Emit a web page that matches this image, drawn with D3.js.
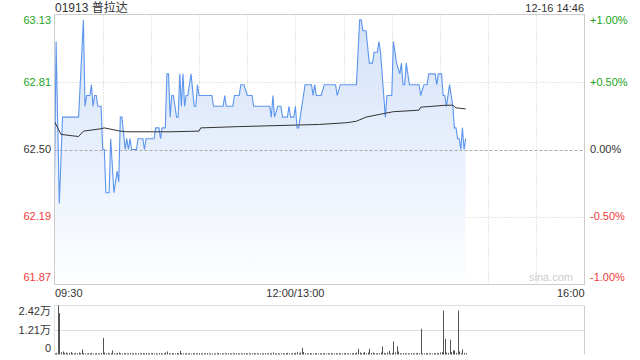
<!DOCTYPE html>
<html>
<head>
<meta charset="utf-8">
<script src="https://cdn.jsdelivr.net/npm/d3@7"></script>
<style>
  body { margin: 0; background: #fff; }
  svg { display: block; font-family: "Liberation Sans", Arial, sans-serif; }
</style>
</head>
<body>
<svg id="chart" width="640" height="360"></svg>
<script>
// minute index (0 = 09:30, 150 = 12:00/13:00, 330 = 16:00) and price
const pricePoints = [
  [0, 62.35], [1, 63.00], [3, 62.25], [5, 62.65], [15, 62.65], [18, 63.10], [19, 62.70],
  [20, 62.75], [22, 62.75], [23, 62.80], [24, 62.70], [25, 62.75], [26, 62.75], [27, 62.70],
  [29, 62.70], [30, 62.50], [31, 62.50], [32, 62.30], [34, 62.30], [35, 62.55], [37, 62.30],
  [39, 62.40], [40, 62.35], [41, 62.65], [42, 62.65], [44, 62.50], [45, 62.55], [46, 62.50],
  [47, 62.55], [48, 62.50], [51, 62.50], [52, 62.55], [55, 62.55], [56, 62.50], [57, 62.55],
  [62, 62.55], [63, 62.60], [65, 62.60], [66, 62.55], [67, 62.60], [69, 62.60], [70, 62.85],
  [71, 62.85], [72, 62.65], [73, 62.75], [74, 62.75], [76, 62.65], [77, 62.65], [78, 62.85],
  [79, 62.70], [80, 62.85], [81, 62.70], [82, 62.75], [83, 62.75], [85, 62.85], [87, 62.70],
  [88, 62.70], [89, 62.80], [90, 62.75], [98, 62.75], [99, 62.70], [105, 62.70], [106, 62.75],
  [107, 62.70], [111, 62.70], [112, 62.75], [115, 62.75], [116, 62.80], [118, 62.80],
  [120, 62.75], [123, 62.75], [124, 62.70], [134, 62.70], [135, 62.65], [136, 62.75],
  [137, 62.65], [139, 62.70], [141, 62.70], [142, 62.65], [145, 62.65], [146, 62.70],
  [147, 62.65], [149, 62.65], [150, 62.70], [151, 62.60], [152, 62.60], [154, 62.70],
  [156, 62.80], [160, 62.80], [161, 62.75], [162, 62.80], [163, 62.75], [166, 62.75],
  [168, 62.80], [175, 62.80], [176, 62.75], [178, 62.80], [188, 62.80], [190, 63.10],
  [191, 63.10], [192, 63.05], [194, 63.05], [196, 62.90], [198, 62.90], [199, 62.95],
  [201, 62.95], [202, 63.00], [203, 62.95], [206, 62.65], [207, 62.75], [210, 62.75],
  [211, 63.00], [213, 62.90], [215, 62.85], [216, 62.90], [217, 62.80], [218, 62.80],
  [219, 62.90], [221, 62.80], [227, 62.80], [228, 62.75], [230, 62.80], [232, 62.80],
  [233, 62.85], [237, 62.85], [238, 62.80], [239, 62.85], [241, 62.85], [242, 62.75],
  [243, 62.75], [244, 62.70], [246, 62.80], [248, 62.70], [249, 62.60], [250, 62.60],
  [251, 62.55], [252, 62.55], [253, 62.50], [254, 62.60], [255, 62.50], [256, 62.55]
];

// average price line
const avgPoints = [
  [0, 62.63], [4, 62.57], [15, 62.56], [18, 62.585], [29, 62.596], [31, 62.60], [41, 62.585],
  [45, 62.582], [72, 62.582], [90, 62.585], [91, 62.60], [115, 62.606], [165, 62.616],
  [182, 62.624], [188, 62.631], [194, 62.65], [204, 62.665], [211, 62.675], [227, 62.682],
  [228, 62.696], [244, 62.705], [248, 62.705], [250, 62.693], [256, 62.688]
];

// volume per minute, in 万
const volumes = [
  0.05, 0.08, 2.42, 2.04, 0.12, 0.15, 0.08, 0.10, 0.06, 0.08,
  0.12, 0.06, 0.05, 0.08, 0.06, 0.10, 0.07, 0.25, 0.08, 0.06,
  0.05, 0.07, 0.06, 0.08, 0.05, 0.06, 0.07, 0.05, 0.06, 0.08,
  0.82, 0.10, 0.06, 0.08, 0.05, 0.07, 0.20, 0.06, 0.05, 0.08,
  0.10, 0.06, 0.05, 0.07, 0.06, 0.05, 0.06, 0.08, 0.05, 0.06,
  0.07, 0.05, 0.06, 0.05, 0.06, 0.07, 0.05, 0.08, 0.06, 0.05,
  0.06, 0.07, 0.05, 0.06, 0.05, 0.07, 0.06, 0.05, 0.06, 0.10,
  0.15, 0.06, 0.05, 0.07, 0.06, 0.05, 0.08, 0.06, 0.18, 0.07,
  0.06, 0.05, 0.07, 0.05, 0.06, 0.05, 0.07, 0.06, 0.05, 0.06,
  0.07, 0.05, 0.06, 0.05, 0.06, 0.07, 0.05, 0.06, 0.05, 0.06,
  0.05, 0.06, 0.07, 0.05, 0.06, 0.05, 0.06, 0.05, 0.07, 0.06,
  0.05, 0.06, 0.05, 0.07, 0.06, 0.05, 0.06, 0.05, 0.06, 0.07,
  0.05, 0.06, 0.05, 0.06, 0.08, 0.05, 0.06, 0.05, 0.06, 0.05,
  0.06, 0.07, 0.05, 0.06, 0.05, 0.06, 0.10, 0.06, 0.05, 0.06,
  0.05, 0.06, 0.07, 0.05, 0.06, 0.08, 0.06, 0.05, 0.07, 0.06,
  0.08, 0.12, 0.06, 0.10, 0.33, 0.12, 0.07, 0.06, 0.05, 0.07,
  0.06, 0.05, 0.06, 0.07, 0.05, 0.06, 0.05, 0.06, 0.07, 0.05,
  0.06, 0.05, 0.07, 0.06, 0.05, 0.06, 0.05, 0.07, 0.06, 0.05,
  0.06, 0.07, 0.05, 0.06, 0.05, 0.06, 0.08, 0.06, 0.10, 0.28,
  0.10, 0.06, 0.08, 0.12, 0.06, 0.10, 0.28, 0.08, 0.10, 0.06,
  0.05, 0.07, 0.06, 0.10, 0.40, 0.08, 0.06, 0.10, 0.18, 0.06,
  0.08, 0.64, 0.10, 0.40, 0.15, 0.06, 0.05, 0.07, 0.06, 0.05,
  0.06, 0.05, 0.07, 0.06, 0.05, 0.06, 0.08, 0.06, 1.27, 0.06,
  0.05, 0.07, 0.06, 0.05, 0.06, 0.05, 0.07, 0.06, 0.08, 0.06,
  0.10, 0.12, 2.17, 0.78, 0.10, 0.08, 0.73, 0.12, 0.20, 0.20,
  0.08, 2.17, 0.15, 0.06, 0.25, 0.08, 0.06
];

const priceTicks = [63.13, 62.81, 62.50, 62.19, 61.87];
const pctTicks = ["+1.00%", "+0.50%", "0.00%", "-0.50%", "-1.00%"];
const volTicks = ["2.42万", "1.21万", "0"];
const timeLabels = ["09:30", "12:00/13:00", "16:00"];
const prevClose = 62.50;

const GREEN = "#1aa31a", RED = "#f23a3a", DARK = "#333";

const svg = d3.select("#chart");
const pLeft = 54.5, pRight = 584.5, pTop = 14.5, pBottom = 284.5;
const vTop = 305.5, vBottom = 354.5;

const x = d3.scaleLinear().domain([0, 330]).range([pLeft, pRight]);
const y = d3.scaleLinear().domain([prevClose * 0.99, prevClose * 1.01]).range([pBottom, pTop]);
const yv = d3.scaleLinear().domain([0, 2.42]).range([vBottom, vTop]);

// gradient fill under price line
const grad = svg.append("defs").append("linearGradient")
  .attr("id", "fill").attr("gradientUnits", "userSpaceOnUse")
  .attr("x1", 0).attr("y1", pTop).attr("x2", 0).attr("y2", pBottom);
grad.append("stop").attr("offset", "0%").attr("stop-color", "#d3e1f9");
grad.append("stop").attr("offset", "100%").attr("stop-color", "#fdfeff");

// grid
const grid = svg.append("g");
const gridTimes = d3.range(30, 330, 30);
grid.selectAll(".vg").data(gridTimes).enter().append("line")
  .attr("x1", d => Math.round(x(d)) + 0.5).attr("x2", d => Math.round(x(d)) + 0.5)
  .attr("y1", pTop).attr("y2", pBottom)
  .attr("stroke", "#ccc").attr("stroke-dasharray", "1,2");
const pctLevels = [0.5, -0.5];
grid.selectAll(".hg").data(pctLevels).enter().append("line")
  .attr("x1", pLeft).attr("x2", pRight)
  .attr("y1", d => Math.round(y(prevClose * (1 + d / 100))) + 0.5)
  .attr("y2", d => Math.round(y(prevClose * (1 + d / 100))) + 0.5)
  .attr("stroke", "#ccc").attr("stroke-dasharray", "1,2");

// area + lines
const area = d3.area().x(d => x(d[0])).y0(pBottom).y1(d => y(d[1]));
svg.append("path").datum(pricePoints).attr("d", area).attr("fill", "url(#fill)");

svg.append("line")
  .attr("x1", pLeft).attr("x2", pRight)
  .attr("y1", Math.round(y(prevClose)) + 0.5).attr("y2", Math.round(y(prevClose)) + 0.5)
  .attr("stroke", "#aaa").attr("stroke-dasharray", "3,2");

const line = d3.line().x(d => x(d[0])).y(d => y(d[1]));
svg.append("path").datum(pricePoints).attr("d", line)
  .attr("fill", "none").attr("stroke", "#5c95ee").attr("stroke-width", 1.1);
svg.append("path").datum(avgPoints).attr("d", line)
  .attr("fill", "none").attr("stroke", "#333").attr("stroke-width", 1);

// frame
svg.append("rect").attr("x", pLeft).attr("y", pTop)
  .attr("width", pRight - pLeft).attr("height", pBottom - pTop)
  .attr("fill", "none").attr("stroke", "#ccc");

svg.append("text").attr("x", 573).attr("y", 281).attr("text-anchor", "end")
  .attr("font-size", 11).attr("fill", "#ccc").text("sina.com");

// price axis labels
const yLabelPos = [pTop + 6, y(priceTicks[1]), y(prevClose), y(priceTicks[3]), pBottom - 7];
const tickColor = i => i < 2 ? GREEN : (i === 2 ? DARK : RED);
svg.selectAll(".pl").data(priceTicks).enter().append("text")
  .attr("x", 51).attr("y", (d, i) => yLabelPos[i]).attr("dy", "0.35em")
  .attr("text-anchor", "end").attr("font-size", 11)
  .attr("fill", (d, i) => tickColor(i)).text(d => d.toFixed(2));
svg.selectAll(".pc").data(pctTicks).enter().append("text")
  .attr("x", 590).attr("y", (d, i) => yLabelPos[i]).attr("dy", "0.35em")
  .attr("font-size", 11)
  .attr("fill", (d, i) => tickColor(i)).text(d => d);

// time labels
const anchors = ["start", "middle", "end"];
const timePos = [0, 150, 330];
svg.selectAll(".tl").data(timeLabels).enter().append("text")
  .attr("x", (d, i) => x(timePos[i]) + (i === 0 ? 0.5 : 0))
  .attr("y", 297).attr("text-anchor", (d, i) => anchors[i])
  .attr("font-size", 11).attr("fill", DARK).text(d => d);

// title
svg.append("text").attr("x", 55).attr("y", 12).attr("font-size", 12).attr("fill", DARK)
  .style("font-family", "'Liberation Sans', 'Noto Sans CJK SC', sans-serif")
  .text("01913 普拉达");
svg.append("text").attr("x", 584).attr("y", 12).attr("text-anchor", "end")
  .attr("font-size", 11).attr("fill", DARK).text("12-16 14:46");

// volume panel
svg.selectAll(".vgl").data([vTop, Math.round(yv(1.21)) + 0.5]).enter().append("line")
  .attr("x1", pLeft).attr("x2", pRight).attr("y1", d => d).attr("y2", d => d)
  .attr("stroke", "#bbb").attr("stroke-dasharray", "1,1");
svg.append("line").attr("x1", pRight).attr("x2", pRight).attr("y1", vTop).attr("y2", vBottom)
  .attr("stroke", "#ccc");
svg.append("line").attr("x1", pLeft).attr("x2", pLeft).attr("y1", vTop).attr("y2", vBottom)
  .attr("stroke", "#e4e4e4");

svg.selectAll(".vb").data(volumes).enter().append("rect")
  .attr("x", (d, i) => Math.round(x(i)))
  .attr("width", 1)
  .attr("y", d => yv(d))
  .attr("height", d => vBottom - yv(d))
  .attr("fill", "#555");

const vLabelPos = [vTop + 6, yv(1.21), vBottom - 6];
svg.selectAll(".vl").data(volTicks).enter().append("text")
  .attr("x", 51).attr("y", (d, i) => vLabelPos[i]).attr("dy", "0.35em")
  .attr("text-anchor", "end").attr("font-size", 11).attr("fill", DARK)
  .style("font-family", "'Liberation Sans', 'Noto Sans CJK SC', sans-serif")
  .text(d => d);
</script>
</body>
</html>
